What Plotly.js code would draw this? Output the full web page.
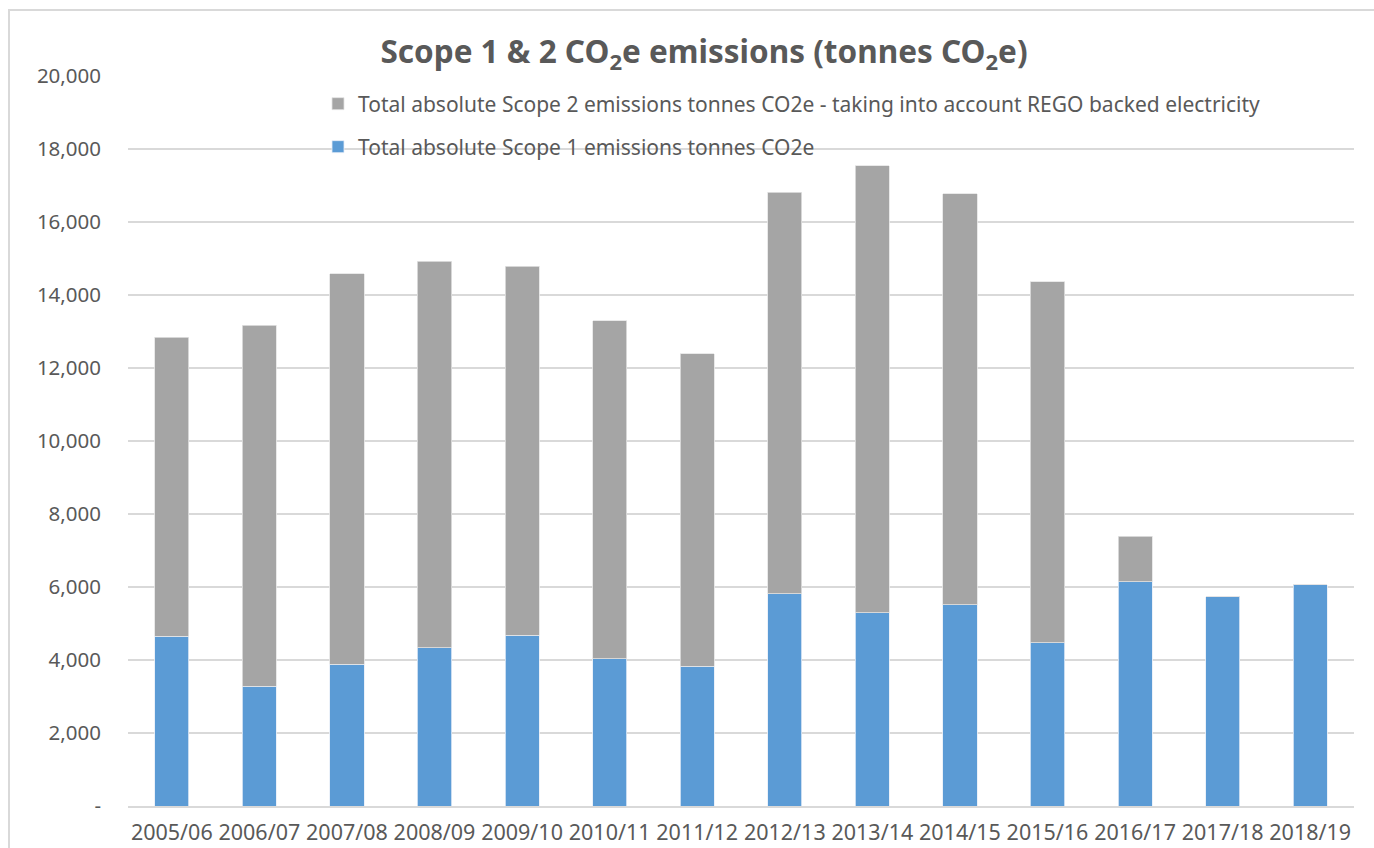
<!DOCTYPE html>
<html>
<head>
<meta charset="utf-8">
<script src="https://cdn.plot.ly/plotly-3.0.1.min.js"></script>
<style>
  html, body { margin: 0; padding: 0; background: #ffffff; }
  #chart { width: 1374px; height: 848px; }
</style>
</head>
<body>
<div id="chart"></div>
<script>
// Financial years
const years = ['2005/06', '2006/07', '2007/08', '2008/09', '2009/10', '2010/11', '2011/12',
               '2012/13', '2013/14', '2014/15', '2015/16', '2016/17', '2017/18', '2018/19'];

// Scope 1 emissions, tonnes CO2e
const scope1 = [4650, 3280, 3890, 4330, 4680, 4040, 3830, 5820, 5300, 5510, 4470, 6150, 5730, 6060];

// Scope 2 emissions (REGO-adjusted), tonnes CO2e, stacked on top of scope 1
const scope2 = [8190, 9890, 10690, 10600, 10110, 9260, 8560, 11000, 12240, 11260, 9890, 1240, 0, 0];

// Y axis ticks
const yTickVals = [0, 2000, 4000, 6000, 8000, 10000, 12000, 14000, 16000, 18000, 20000];
const yTickText = ['-', '2,000', '4,000', '6,000', '8,000', '10,000', '12,000', '14,000', '16,000', '18,000', '20,000'];

const seriesNames = {
  s1: 'Total absolute Scope 1 emissions tonnes CO2e',
  s2: 'Total absolute Scope 2 emissions tonnes CO2e - taking into account REGO backed electricity'
};

const FONT = 'Noto Sans, Open Sans, sans-serif';
const TEXT = '#595959';

const W = 1374, H = 848;
const M = { l: 128, r: 20, t: 76, b: 42 };
const pw = W - M.l - M.r, ph = H - M.t - M.b;
// pixel -> paper helpers for placing legends and the frame
const px = x => (x - M.l) / pw;
const py = y => (H - M.b - y) / ph;

const traces = [
  {
    type: 'bar', x: years, y: scope1, name: seriesNames.s1,
    marker: { color: '#5B9BD5', line: { color: '#e6eef7', width: 0.8 } },
    legend: 'legend2', hoverinfo: 'x+y+name'
  },
  {
    type: 'bar', x: years, y: scope2, name: seriesNames.s2,
    marker: { color: '#A5A5A5', line: { color: '#e3e3e3', width: 0.8 } },
    legend: 'legend', hoverinfo: 'x+y+name'
  }
];

const layout = {
  width: W, height: H,
  margin: M,
  paper_bgcolor: '#ffffff', plot_bgcolor: '#ffffff',
  barmode: 'stack', bargap: 0.61,
  font: { family: FONT, color: TEXT, size: 20 },
  title: {
    text: '<b>Scope 1 & 2 CO<sub>2</sub>e emissions (tonnes CO<sub>2</sub>e)</b>',
    x: 704 / W, xanchor: 'center',
    y: 1 - 52 / H, yanchor: 'middle',
    font: { family: FONT, size: 31.5, color: TEXT }
  },
  xaxis: {
    type: 'category', showgrid: false, zeroline: false,
    showline: true, linecolor: '#d9d9d9', linewidth: 1.5,
    ticks: '', tickfont: { family: FONT, size: 21.5, color: TEXT },
    ticklabelstandoff: 7, fixedrange: true
  },
  yaxis: {
    range: [0, 20000], tickvals: yTickVals, ticktext: yTickText,
    showgrid: true, gridcolor: '#d9d9d9', gridwidth: 1.5,
    zeroline: false, showline: false, ticks: '',
    tickfont: { family: FONT, size: 20.5, color: TEXT },
    ticklabelstandoff: 26, fixedrange: true
  },
  showlegend: true,
  legend: {
    x: px(318), y: py(104), xanchor: 'left', yanchor: 'middle',
    bgcolor: 'rgba(0,0,0,0)', font: { family: FONT, size: 21, color: TEXT },
    itemwidth: 30
  },
  legend2: {
    x: px(318), y: py(147), xanchor: 'left', yanchor: 'middle',
    bgcolor: 'rgba(0,0,0,0)', font: { family: FONT, size: 21, color: TEXT },
    itemwidth: 30
  },
  shapes: [
    {
      type: 'path', xref: 'paper', yref: 'paper',
      path: `M ${px(9)} ${py(H + 5)} L ${px(9)} ${py(10)} L ${px(W + 5)} ${py(10)}`,
      line: { color: '#d9d9d9', width: 2 }
    }
  ]
};

Plotly.newPlot('chart', traces, layout, { displayModeBar: false, staticPlot: true });
</script>
</body>
</html>
